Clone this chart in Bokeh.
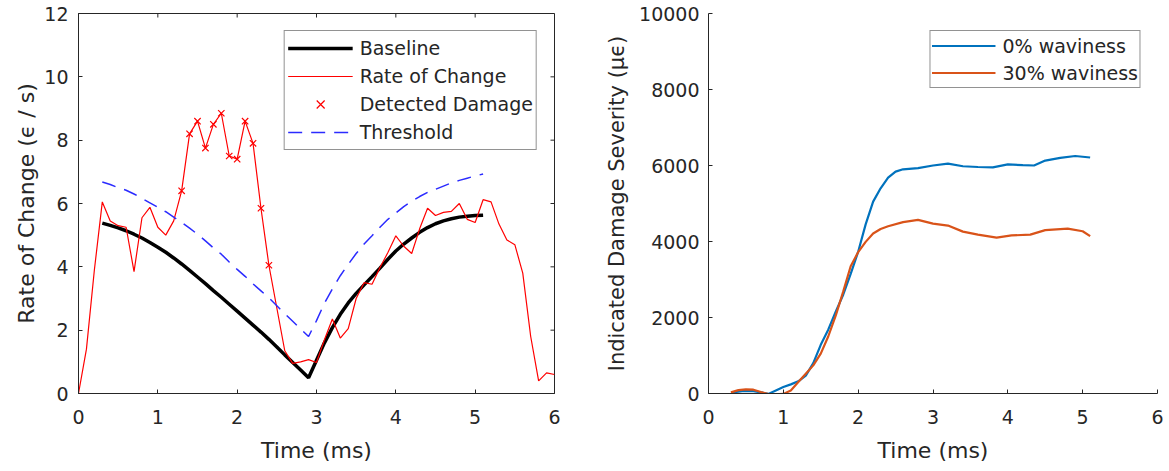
import math
from bokeh.plotting import figure
from bokeh.models import Range1d, FixedTicker, Legend, LegendItem
from bokeh.layouts import row
from bokeh.embed import file_html
from bokeh.resources import INLINE

FONT = "DejaVu Sans"
INK = "#262626"

# ---------------- left panel data ----------------
x_ticks = [0, 1, 2, 3, 4, 5, 6]
y_ticks_left = [0, 2, 4, 6, 8, 10, 12]

time_rate = [0.0, 0.1, 0.2, 0.3, 0.4, 0.5, 0.6, 0.7, 0.8, 0.9,
             1.0, 1.1, 1.2, 1.3, 1.4, 1.5, 1.6, 1.7, 1.8, 1.9,
             2.0, 2.1, 2.2, 2.3, 2.4, 2.5, 2.6, 2.7, 2.8, 2.9,
             3.0, 3.1, 3.2, 3.3, 3.4, 3.5, 3.6, 3.7, 3.8, 3.9,
             4.0, 4.1, 4.2, 4.3, 4.4, 4.5, 4.6, 4.7, 4.8, 4.9,
             5.0, 5.1, 5.2, 5.3, 5.4, 5.5, 5.6, 5.7, 5.8, 5.9, 6.0]
rate = [0.0, 1.4, 3.9, 6.05, 5.45, 5.3, 5.25, 3.85, 5.55, 5.88,
        5.25, 5.0, 5.45, 6.4, 8.2, 8.6, 7.75, 8.5, 8.85, 7.5,
        7.4, 8.6, 7.9, 5.85, 4.05, 2.7, 1.35, 0.95, 1.0, 1.07,
        0.98, 1.7, 2.35, 1.75, 2.05, 3.0, 3.5, 3.45, 3.98, 4.45,
        4.98, 4.65, 4.42, 5.2, 5.85, 5.62, 5.72, 5.75, 6.0, 5.5,
        5.4, 6.12, 6.05, 5.35, 4.85, 4.7, 3.8, 1.8, 0.4, 0.65, 0.6]

damage_time = [1.3, 1.4, 1.5, 1.6, 1.7, 1.8, 1.9, 2.0, 2.1, 2.2, 2.3, 2.4]
damage_rate = [6.4, 8.2, 8.6, 7.75, 8.5, 8.85, 7.5, 7.4, 8.6, 7.9, 5.85, 4.05]

base_time = [0.3, 0.4, 0.5, 0.6, 0.7, 0.8, 0.9, 1.0, 1.1, 1.2,
             1.3, 1.4, 1.5, 1.6, 1.7, 1.8, 1.9, 2.0, 2.1, 2.2,
             2.3, 2.4, 2.5, 2.6, 2.7, 2.8, 2.9, 3.0, 3.1, 3.2,
             3.3, 3.4, 3.5, 3.6, 3.7, 3.8, 3.9, 4.0, 4.1, 4.2,
             4.3, 4.4, 4.5, 4.6, 4.7, 4.8, 4.9, 5.0, 5.1]
baseline = [5.38, 5.31, 5.23, 5.14, 5.03, 4.91, 4.77, 4.62, 4.46, 4.28,
            4.09, 3.89, 3.68, 3.47, 3.25, 3.04, 2.82, 2.6, 2.38, 2.16,
            1.94, 1.71, 1.47, 1.22, 0.98, 0.74, 0.5, 1.05, 1.6, 2.08,
            2.5, 2.86, 3.16, 3.43, 3.69, 3.96, 4.24, 4.5, 4.72, 4.91,
            5.09, 5.24, 5.36, 5.45, 5.52, 5.57, 5.6, 5.62, 5.63]
threshold = [6.68, 6.6, 6.5, 6.42, 6.3, 6.16, 6.02, 5.88, 5.74, 5.57,
             5.4, 5.22, 5.03, 4.82, 4.6, 4.4, 4.15, 3.92, 3.7, 3.46,
             3.24, 3.02, 2.77, 2.52, 2.28, 2.04, 1.8, 2.3, 2.85, 3.3,
             3.72, 4.08, 4.42, 4.72, 4.98, 5.25, 5.5, 5.7, 5.9, 6.07,
             6.22, 6.35, 6.45, 6.55, 6.65, 6.73, 6.8, 6.87, 6.93]

# ---------------- right panel data ----------------
y_ticks_right = [0, 2000, 4000, 6000, 8000, 10000]

time_w0 = [0.3, 0.45, 0.6, 0.7, 0.8, 0.9, 1.0, 1.1, 1.2, 1.3,
           1.4, 1.5, 1.6, 1.7, 1.8, 1.9, 2.0, 2.1, 2.2, 2.3,
           2.4, 2.5, 2.6, 2.8, 3.0, 3.2, 3.4, 3.6, 3.8, 4.0,
           4.2, 4.35, 4.5, 4.7, 4.9, 5.1]
sev_w0 = [20, 60, 60, 30, -10, 80, 170, 240, 320, 470,
          800, 1280, 1680, 2150, 2600, 3150, 3730, 4450, 5050, 5400,
          5680, 5840, 5900, 5930, 6000, 6050, 5980, 5960, 5950, 6030,
          6010, 6000, 6130, 6200, 6250, 6210]

time_w30 = [0.3, 0.4, 0.5, 0.6, 0.7, 0.8, 0.9, 1.0, 1.1, 1.2,
            1.3, 1.4, 1.5, 1.6, 1.7, 1.8, 1.9, 2.0, 2.1, 2.2,
            2.3, 2.4, 2.6, 2.8, 3.0, 3.2, 3.4, 3.6, 3.85, 4.05,
            4.3, 4.5, 4.8, 5.0, 5.1]
sev_w30 = [30, 90, 110, 100, 40, -15, -20, -10, 80, 300,
           520, 740, 1050, 1500, 2050, 2680, 3350, 3720, 3990, 4210,
           4330, 4400, 4510, 4570, 4470, 4420, 4260, 4180, 4100, 4160,
           4180, 4300, 4340, 4270, 4140]


def style_axis(ax, tick_standoff, label_standoff, label_size="22px"):
    ax.axis_line_color = INK
    ax.axis_line_width = 1
    ax.major_tick_line_color = INK
    ax.major_tick_in = 4
    ax.major_tick_out = 0
    ax.minor_tick_line_color = None
    ax.major_label_text_font = FONT
    ax.major_label_text_font_size = "19px"
    ax.major_label_text_color = INK
    ax.major_label_standoff = tick_standoff
    ax.axis_label_text_font = FONT
    ax.axis_label_text_font_size = label_size
    ax.axis_label_text_font_style = "normal"
    ax.axis_label_text_color = INK
    ax.axis_label_standoff = label_standoff


def style_legend(leg, glyph_w, row_h, pad):
    leg.location = "top_right"
    leg.margin = 17
    leg.padding = pad
    leg.spacing = 0
    leg.glyph_width = glyph_w
    leg.glyph_height = row_h
    leg.label_height = row_h
    leg.label_standoff = 7
    leg.label_text_font = FONT
    leg.label_text_font_size = "19px"
    leg.label_text_color = INK
    leg.border_line_color = INK
    leg.border_line_width = 1
    leg.background_fill_color = "white"
    leg.background_fill_alpha = 1.0


# ---------------- left figure ----------------
p1 = figure(width=600, height=471, x_range=Range1d(0, 6), y_range=Range1d(0, 12),
            output_backend="svg", toolbar_location=None,
            min_border_left=78, min_border_right=46, min_border_top=13, min_border_bottom=78)
p1.xgrid.visible = False
p1.ygrid.visible = False
p1.outline_line_color = INK
p1.background_fill_color = "white"
p1.border_fill_color = "white"

r_base = p1.line(base_time, baseline, line_color="black", line_width=3.5)
r_rate = p1.line(time_rate, rate, line_color="#ff0000", line_width=1.2)
r_dmg = p1.scatter(damage_time, damage_rate, marker="x", size=9,
                   line_color="#ff0000", line_width=1.2)
r_thr = p1.line(base_time, threshold, line_color="#2b2bff", line_width=1.5, line_dash="14 9")

# inward ticks on the top and right edges of the box
p1.ray(x=x_ticks, y=[y_ticks_left[-1]] * len(x_ticks), length=4, length_units="screen",
       angle=-math.pi / 2, line_color=INK, line_width=1)
p1.ray(x=[x_ticks[-1]] * len(y_ticks_left), y=y_ticks_left, length=4, length_units="screen",
       angle=math.pi, line_color=INK, line_width=1)

p1.xaxis.ticker = FixedTicker(ticks=x_ticks)
p1.yaxis.ticker = FixedTicker(ticks=y_ticks_left)
p1.xaxis.axis_label = "Time (ms)"
p1.yaxis.axis_label = "Rate of Change (\u03f5 / s)"
style_axis(p1.xaxis[0], 16, 11)
style_axis(p1.yaxis[0], 10, 2)

leg1 = Legend(items=[
    LegendItem(label="Baseline", renderers=[r_base]),
    LegendItem(label="Rate of Change", renderers=[r_rate]),
    LegendItem(label="Detected Damage", renderers=[r_dmg]),
    LegendItem(label="Threshold", renderers=[r_thr]),
])
style_legend(leg1, 65, 28, 3)
p1.add_layout(leg1)

# ---------------- right figure ----------------
p2 = figure(width=569, height=471, x_range=Range1d(0, 6), y_range=Range1d(0, 10000),
            output_backend="svg", toolbar_location=None,
            min_border_left=108, min_border_right=12, min_border_top=13, min_border_bottom=78)
p2.xgrid.visible = False
p2.ygrid.visible = False
p2.outline_line_color = None
p2.background_fill_color = "white"
p2.border_fill_color = "white"

r_w0 = p2.line(time_w0, sev_w0, line_color="#0072BD", line_width=2.2)
r_w30 = p2.line(time_w30, sev_w30, line_color="#D95319", line_width=2.2)

p2.xaxis.ticker = FixedTicker(ticks=x_ticks)
p2.yaxis.ticker = FixedTicker(ticks=y_ticks_right)
p2.xaxis.axis_label = "Time (ms)"
p2.yaxis.axis_label = "Indicated Damage Severity (\u03bc\u03f5)"
style_axis(p2.xaxis[0], 16, 11)
style_axis(p2.yaxis[0], 9, 7, "21px")

leg2 = Legend(items=[
    LegendItem(label="0% waviness", renderers=[r_w0]),
    LegendItem(label="30% waviness", renderers=[r_w30]),
])
style_legend(leg2, 64, 27, 1)
p2.add_layout(leg2)

layout = row(p1, p2)

open("out.html", "w").write(file_html(layout, INLINE))
